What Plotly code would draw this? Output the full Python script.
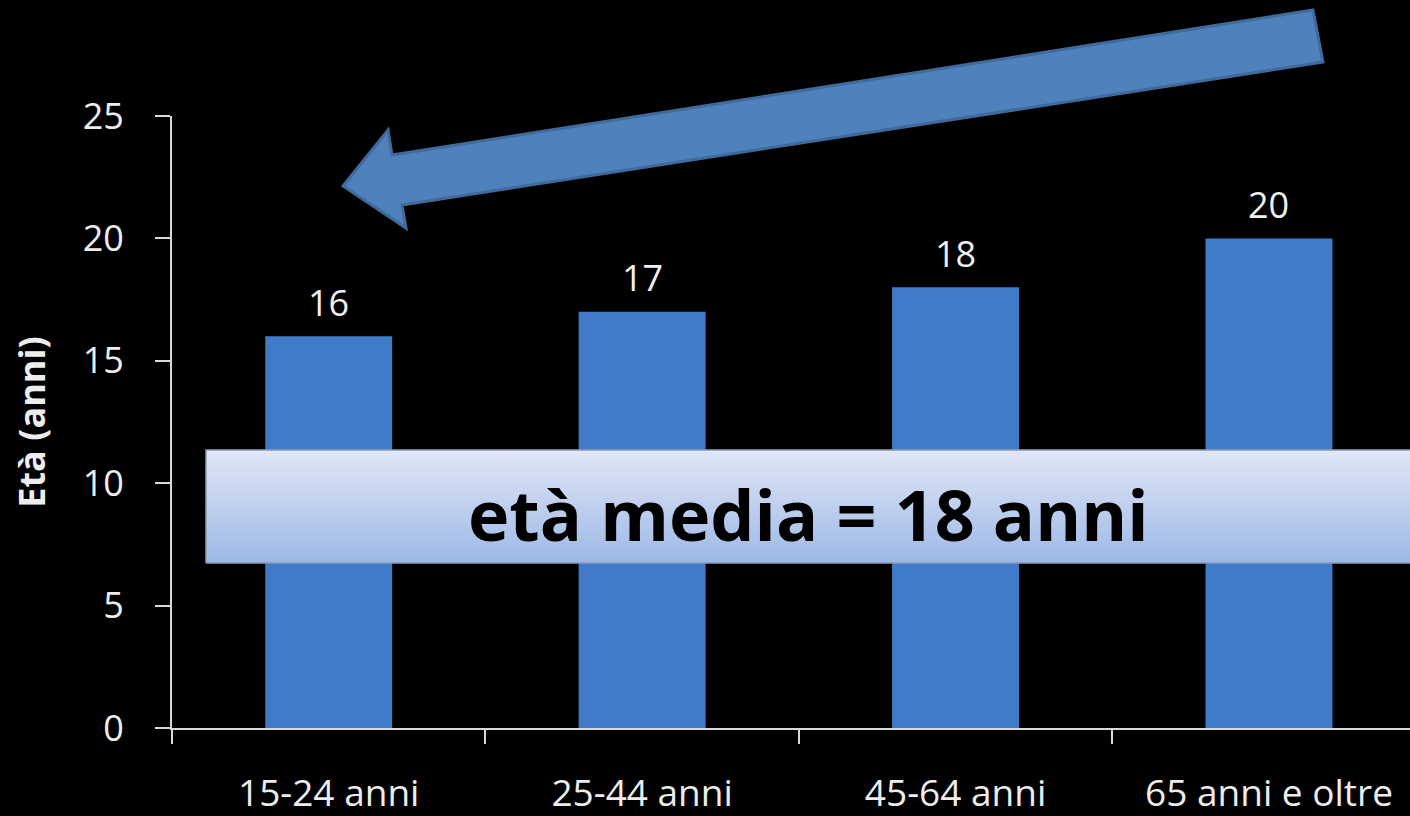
import plotly.graph_objects as go

# ---- data ----
categories = ["15-24 anni", "25-44 anni", "45-64 anni", "65 anni e oltre"]
eta_values = [16, 17, 18, 20]
y_ticks = [0, 5, 10, 15, 20, 25]
banner_text = "età media = 18 anni"
y_title = "Età (anni)"

# ---- layout constants (pixels of the 1410x816 page) ----
W, H = 1410, 816
ML, MR, MT, MB = 172, 0, 116, 88
PW, PH = W - ML - MR, H - MT - MB
FONT = "Open Sans"


def px(x, y):
    """page pixel -> paper fraction"""
    return (x - ML) / PW, (H - MB - y) / PH


fig = go.Figure()

fig.add_trace(go.Bar(
    x=categories, y=eta_values, width=0.405,
    marker=dict(color="#3F7BC6", line=dict(width=0)),
    hoverinfo="skip", showlegend=False,
))

# banner with vertical gradient (on an overlaid linear x axis)
bx0, _ = px(206, 0)
y_lo, y_hi = 6.74, 11.36
fig.add_trace(go.Scatter(
    x=[bx0, 1.02, 1.02, bx0, bx0], y=[y_lo, y_lo, y_hi, y_hi, y_lo],
    xaxis="x2", yaxis="y", mode="lines", fill="toself",
    line=dict(color="#8C9BB5", width=1.5),
    fillgradient=dict(type="vertical",
                      colorscale=[[0, "#9DB8E6"], [1, "#E1E7F6"]]),
    hoverinfo="skip", showlegend=False,
))

annotations = []
for c, v in zip(categories, eta_values):
    annotations.append(dict(
        x=c, y=v, xref="x", yref="y", text=str(v), showarrow=False,
        yshift=34, font=dict(family=FONT, size=36, color="#F0F0F0"),
    ))

tx, ty = px(808, 514)
annotations.append(dict(
    x=tx, y=ty, xref="paper", yref="paper", text=banner_text,
    showarrow=False, xanchor="center", yanchor="middle",
    font=dict(family=FONT, size=70, color="#000000", weight="bold"),
))

# block arrow
pts = [(343, 186), (388, 130), (392, 155), (1313, 10), (1323, 62),
       (402, 205), (406, 228)]
path = ""
for i, (x, y) in enumerate(pts):
    a, b = px(x, y)
    path += ("M" if i == 0 else "L") + f"{a:.4f},{b:.4f} "
path += "Z"

fig.update_layout(
    width=W, height=H,
    margin=dict(l=ML, r=MR, t=MT, b=MB, autoexpand=False),
    paper_bgcolor="#000000", plot_bgcolor="#000000",
    showlegend=False,
    xaxis=dict(
        type="category", categoryorder="array", categoryarray=categories,
        range=[-0.5, 3.45], showgrid=False, zeroline=False,
        showline=True, linecolor="#D9D9D9", linewidth=2,
        ticks="outside", tickson="boundaries", ticklen=14, tickwidth=2,
        tickcolor="#D9D9D9", ticklabelstandoff=32,
        tickfont=dict(family=FONT, size=37, color="#EDEDED"),
    ),
    xaxis2=dict(overlaying="x", range=[0, 1], visible=False),
    yaxis=dict(
        range=[0, 25], tickvals=y_ticks, showgrid=False, zeroline=False,
        showline=True, linecolor="#D9D9D9", linewidth=2,
        ticks="outside", ticklen=15, tickwidth=2, tickcolor="#D9D9D9",
        ticklabelstandoff=24,
        tickfont=dict(family=FONT, size=36, color="#EDEDED"),
        title=dict(text=y_title, standoff=26,
                   font=dict(family=FONT, size=36, color="#EDEDED",
                             weight="bold")),
    ),
    annotations=annotations,
    shapes=[dict(type="path", path=path, xref="paper", yref="paper",
                 fillcolor="#4F81BD", line=dict(color="#3F6A9C", width=3),
                 layer="above")],
)

fig.write_html(
    "out.html",
    config={"displayModeBar": False},
    post_script="document.body.style.margin='0px';"
                "document.body.style.background='#000';"
                "document.documentElement.style.background='#000';"
                "document.body.style.overflow='hidden';",
)
